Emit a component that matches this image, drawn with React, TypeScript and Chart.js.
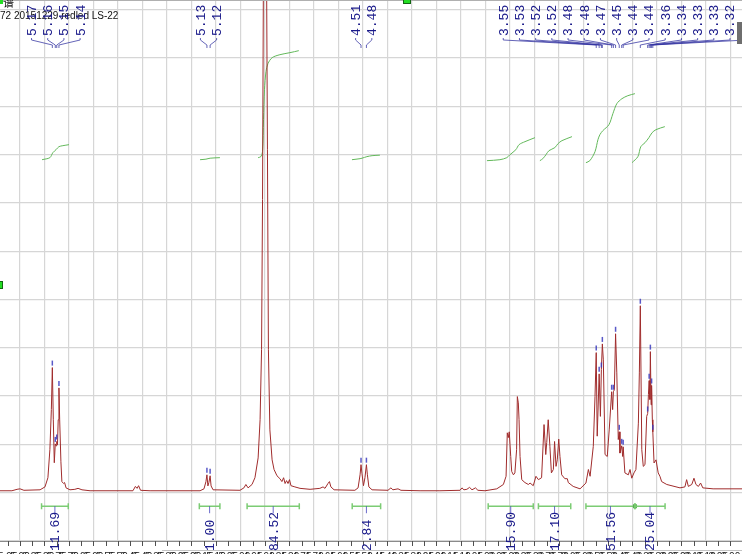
import React, { useEffect, useRef } from 'react';
import { Chart, registerables } from 'chart.js';

Chart.register(...registerables);

// ---------- data ----------
const X_MAX = 5.9816;
const X_MIN = 2.953;

const shiftPpm = [
  5.982, 5.933, 5.912, 5.9, 5.884, 5.818, 5.798, 5.786, 5.778, 5.772, 5.768, 5.764, 5.76, 5.756, 5.753, 5.75, 5.747, 5.744,
  5.741, 5.738, 5.733, 5.729, 5.722, 5.718, 5.712, 5.696, 5.676, 5.663, 5.647, 5.614, 5.439, 5.429, 5.422, 5.416, 5.408,
  5.369, 5.165, 5.149, 5.141, 5.137, 5.133, 5.129, 5.124, 5.12, 5.112, 5.002, 4.986, 4.978, 4.969, 4.953, 4.941, 4.928,
  4.92, 4.914, 4.91, 4.906, 4.9, 4.894, 4.89, 4.886, 4.88, 4.871, 4.863, 4.851, 4.839, 4.831, 4.824, 4.818, 4.812, 4.806,
  4.8, 4.794, 4.778, 4.757, 4.716, 4.676, 4.663, 4.655, 4.643, 4.637, 4.631, 4.618, 4.533, 4.52, 4.512, 4.508, 4.504,
  4.498, 4.492, 4.486, 4.482, 4.476, 4.463, 4.398, 4.386, 4.378, 4.357, 4.345, 4.267, 4.186, 4.104, 4.096, 4.088, 4.076,
  4.065, 4.055, 4.041, 4.031, 4.002, 3.954, 3.927, 3.916, 3.911, 3.907, 3.903, 3.897, 3.893, 3.886, 3.88, 3.873, 3.87,
  3.866, 3.863, 3.859, 3.852, 3.839, 3.825, 3.818, 3.805, 3.794, 3.784, 3.771, 3.761, 3.754, 3.75, 3.744, 3.737, 3.731,
  3.723, 3.718, 3.712, 3.707, 3.701, 3.696, 3.689, 3.676, 3.666, 3.662, 3.642, 3.614, 3.59, 3.58, 3.573, 3.56, 3.553,
  3.548, 3.544, 3.536, 3.531, 3.527, 3.523, 3.519, 3.512, 3.503, 3.495, 3.485, 3.481, 3.478, 3.474, 3.469, 3.464, 3.458,
  3.454, 3.451, 3.444, 3.44, 3.438, 3.431, 3.417, 3.41, 3.403, 3.394, 3.386, 3.376, 3.372, 3.368, 3.362, 3.356, 3.349,
  3.342, 3.338, 3.335, 3.332, 3.329, 3.327, 3.324, 3.322, 3.319, 3.317, 3.312, 3.304, 3.295, 3.288, 3.281, 3.26, 3.206,
  3.186, 3.179, 3.172, 3.158, 3.149, 3.141, 3.131, 3.122, 3.113, 3.071, 2.953,
];

const intensity = [
  0.04, 0.04, 0.07, 0.08, 0.05, 0.06, 0.12, 0.31, 0.89, 1.72, 2.59, 1.51, 0.62, 1.01, 0.97, 1.06, 0.99, 1.51,
  2.17, 1.51, 0.64, 0.23, 0.19, 0.21, 0.1, 0.06, 0.07, 0.09, 0.06, 0.04, 0.04, 0.13, 0.09, 0.145, 0.05,
  0.04, 0.04, 0.08, 0.23, 0.37, 0.14, 0.21, 0.35, 0.14, 0.06, 0.05, 0.1, 0.17, 0.1, 0.17, 0.31, 0.72,
  1.51, 2.96, 6.07, 11.24, 13.3, 11.24, 7.1, 2.96, 1.3, 0.68, 0.48, 0.35, 0.29, 0.23, 0.31, 0.19, 0.25, 0.19,
  0.27, 0.145, 0.12, 0.09, 0.07, 0.09, 0.12, 0.09, 0.19, 0.23, 0.12, 0.06, 0.05, 0.1, 0.37, 0.58, 0.39,
  0.145, 0.31, 0.58, 0.37, 0.12, 0.06, 0.05, 0.1, 0.06, 0.08, 0.05, 0.04, 0.04, 0.05, 0.1, 0.06, 0.07,
  0.11, 0.06, 0.1, 0.05, 0.04, 0.08, 0.17, 0.34, 1.24, 1.14, 1.26, 0.75, 0.44, 0.37, 0.41, 0.89, 1.99,
  1.86, 1.51, 0.75, 0.27, 0.21, 0.17, 0.2, 0.145, 0.34, 0.27, 0.31, 1.41, 0.79, 1.04, 1.51, 0.96, 0.41,
  0.48, 1.06, 0.545, 0.68, 1.11, 0.75, 0.37, 0.29, 0.29, 0.21, 0.13, 0.08, 0.2, 0.48, 0.34, 0.96, 1.99,
  2.9, 1.17, 2.46, 1.58, 2.55, 3.08, 2.75, 0.79, 0.75, 1.3, 2.09, 1.72, 2.09, 2.13, 3.29, 2.48, 1.1,
  1.26, 0.82, 0.97, 0.75, 0.95, 0.41, 0.37, 0.48, 0.3, 0.41, 0.48, 1.44, 2.48, 3.87, 0.89, 0.545, 0.58,
  1.58, 1.64, 2.03, 2.32, 1.93, 2.92, 1.82, 2.22, 1.51, 1.26, 0.615, 0.68, 0.41, 0.34, 0.23, 0.17, 0.1,
  0.12, 0.27, 0.13, 0.17, 0.3, 0.17, 0.13, 0.2, 0.1, 0.08, 0.08,
];

const peakLabels = [
  '5.17', '5.16', '5.15', '5.14', '5.13', '5.12', '4.51', '4.48',
  '3.55', '3.53', '3.52', '3.52', '3.48', '3.48', '3.47', '3.45', '3.44', '3.44',
  '3.36', '3.34', '3.33', '3.33', '3.32', '3.31',
];
const peakShifts = [
  5.768, 5.756, 5.75, 5.741, 5.137, 5.124, 4.508, 4.486,
  3.548, 3.536, 3.527, 3.523, 3.485, 3.478, 3.469, 3.454, 3.444, 3.438,
  3.368, 3.338, 3.332, 3.327, 3.322, 3.317,
];
const peakGroupSizes = [4, 2, 2, 16];

const integralFrom = [5.812, 5.168, 4.973, 4.544, 3.989, 3.784, 3.59, 3.39];
const integralTo = [5.703, 5.084, 4.76, 4.428, 3.805, 3.652, 3.39, 3.267];
const integralValues = ['11.69', '1.00', '84.52', '2.84', '15.90', '17.10', '51.56', '25.04'];

const integralCurve1 = [[5.81, 6.894], [5.778, 6.936], [5.766, 7.039], [5.753, 7.101], [5.741, 7.164], [5.725, 7.184], [5.7, 7.205]];
const integralCurve2 = [[5.165, 6.894], [5.141, 6.905], [5.124, 6.925], [5.084, 6.936]];
const integralCurve3 = [[4.928, 6.936], [4.917, 6.957], [4.91, 7.06], [4.906, 7.723], [4.902, 8.344], [4.896, 8.716], [4.888, 8.882], [4.871, 9.006], [4.839, 9.068], [4.798, 9.11], [4.762, 9.151]];
const integralCurve4 = [[4.545, 6.894], [4.512, 6.915], [4.504, 6.925], [4.484, 6.957], [4.463, 6.977], [4.431, 6.988]];
const integralCurve5 = [[3.994, 6.874], [3.941, 6.894], [3.913, 6.936], [3.9, 6.998], [3.876, 7.101], [3.863, 7.205], [3.839, 7.267], [3.798, 7.35]];
const integralCurve6 = [[3.778, 6.874], [3.766, 6.915], [3.753, 6.998], [3.741, 7.081], [3.717, 7.143], [3.704, 7.226], [3.688, 7.288], [3.647, 7.371]];
const integralCurve7 = [[3.59, 6.832], [3.574, 6.874], [3.553, 7.06], [3.541, 7.308], [3.533, 7.412], [3.521, 7.495], [3.496, 7.619], [3.48, 7.847], [3.464, 8.054], [3.443, 8.157], [3.419, 8.219], [3.39, 8.261]];
const integralCurve8 = [[3.402, 6.832], [3.378, 6.957], [3.366, 7.164], [3.349, 7.246], [3.333, 7.35], [3.32, 7.453], [3.304, 7.516], [3.268, 7.578]];
const integralCurves = [integralCurve1, integralCurve2, integralCurve3, integralCurve4, integralCurve5, integralCurve6, integralCurve7, integralCurve8];

const headerText = '72 20151229 redled LS-22';
const headerTitle = '谱';

// ---------- styles ----------
const SPEC_COLOR = '#a02c2c';
const INT_COLOR = '#62b85a';
const LABEL_COLOR = '#1a1a8a';
const LINK_COLOR = 'rgba(50,50,160,0.75)';
const GRID_COLOR = '#d6d6d6';
const MONO = '"Liberation Mono", "DejaVu Sans Mono", monospace';

function intensityAt(p: number): number {
  for (let i = 0; i < shiftPpm.length - 1; i++) {
    const a = shiftPpm[i], b = shiftPpm[i + 1];
    if (p <= a && p >= b) {
      const t = a === b ? 0 : (a - p) / (a - b);
      return intensity[i] + t * (intensity[i + 1] - intensity[i]);
    }
  }
  return 0;
}

const nmrPlugin = {
  id: 'nmrDecor',
  afterDatasetsDraw(chart: any) {
    const ctx: CanvasRenderingContext2D = chart.ctx;
    const xs = chart.scales.x;
    const ys = chart.scales.y;
    const area = chart.chartArea;
    const px = (v: number) => xs.getPixelForValue(v);
    const py = (v: number) => ys.getPixelForValue(v);
    const W = chart.width;
    ctx.save();

    // top border line
    ctx.strokeStyle = '#b0b0b0';
    ctx.lineWidth = 1;
    ctx.beginPath();
    ctx.moveTo(0, 0.5);
    ctx.lineTo(W, 0.5);
    ctx.stroke();

    // header text
    ctx.fillStyle = '#111';
    ctx.font = '10px "Liberation Sans", sans-serif';
    ctx.textBaseline = 'alphabetic';
    ctx.textAlign = 'left';
    ctx.fillText(headerText, 0, 19);
    ctx.font = '11px "Noto Sans CJK SC", sans-serif';
    ctx.fillText(headerTitle, 3, 7);
    ctx.fillStyle = '#22dd22';
    ctx.fillRect(0, 0, 3, 4);

    // peak markers
    ctx.strokeStyle = 'rgba(60,60,190,0.85)';
    ctx.lineWidth = 1.5;
    peakShifts.forEach((p) => {
      const x = px(p);
      const y = py(intensityAt(p));
      ctx.beginPath();
      ctx.moveTo(x, y - 2);
      ctx.lineTo(x, y - 7);
      ctx.stroke();
    });

    // peak labels + connectors
    const spacing = 16.2;
    let idx = 0;
    const labelBottom = area.top + 36;
    peakGroupSizes.forEach((n) => {
      const xsPk: number[] = [];
      for (let k = 0; k < n; k++) xsPk.push(px(peakShifts[idx + k]));
      const center = xsPk.reduce((s, v) => s + v, 0) / n;
      for (let k = 0; k < n; k++) {
        const lx = center + (k - (n - 1) / 2) * spacing;
        const pk = xsPk[k];
        ctx.strokeStyle = LINK_COLOR;
        ctx.lineWidth = 1;
        ctx.beginPath();
        ctx.moveTo(lx, labelBottom + 2);
        ctx.lineTo(lx, labelBottom + 4);
        ctx.lineTo(pk, labelBottom + 9);
        ctx.lineTo(pk, labelBottom + 12);
        ctx.stroke();
        ctx.save();
        ctx.translate(lx, labelBottom);
        ctx.rotate(-Math.PI / 2);
        ctx.fillStyle = LABEL_COLOR;
        ctx.font = '13px ' + MONO;
        ctx.textAlign = 'left';
        ctx.textBaseline = 'middle';
        ctx.fillText(peakLabels[idx + k], 0, 1);
        ctx.restore();
      }
      idx += n;
    });

    // integral bars
    const barY = py(-0.28);
    integralFrom.forEach((f, i) => {
      const x1 = px(f);
      const x2 = px(integralTo[i]);
      ctx.strokeStyle = '#7ccc74';
      ctx.lineWidth = 1.5;
      ctx.beginPath();
      ctx.moveTo(x1, barY);
      ctx.lineTo(x2, barY);
      ctx.moveTo(x1, barY - 3);
      ctx.lineTo(x1, barY + 3);
      ctx.moveTo(x2, barY - 3);
      ctx.lineTo(x2, barY + 3);
      ctx.stroke();
      if (i < integralFrom.length - 1 && Math.abs(integralTo[i] - integralFrom[i + 1]) < 1e-6) {
        ctx.fillStyle = '#58b050';
        ctx.fillRect(x2 - 2, barY - 2, 4, 4);
      }
      const cx = (x1 + x2) / 2;
      ctx.strokeStyle = 'rgba(70,70,190,0.8)';
      ctx.lineWidth = 1;
      ctx.beginPath();
      ctx.moveTo(cx, barY);
      ctx.lineTo(cx, barY + 7);
      ctx.stroke();
    });

    // ruler
    const axY = area.bottom;
    ctx.strokeStyle = '#8a8a8a';
    ctx.lineWidth = 1;
    ctx.beginPath();
    ctx.moveTo(0, axY + 0.5);
    ctx.lineTo(W, axY + 0.5);
    ctx.stroke();
    ctx.strokeStyle = '#505050';
    const startT = Math.ceil(X_MIN / 0.05);
    const endT = Math.floor(X_MAX / 0.05);
    for (let t = startT; t <= endT; t++) {
      const x = Math.round(px(t * 0.05)) + 0.5;
      ctx.beginPath();
      ctx.moveTo(x, axY);
      ctx.lineTo(x, axY + 5);
      ctx.stroke();
    }
    ctx.fillStyle = '#222';
    ctx.font = '10px "Liberation Sans", sans-serif';
    ctx.textAlign = 'center';
    ctx.textBaseline = 'top';
    for (let t = startT; t <= endT; t++) {
      ctx.fillText((t * 0.05).toFixed(2), px(t * 0.05), axY + 11);
    }
    ctx.strokeStyle = '#c4c4c4';
    ctx.beginPath();
    ctx.moveTo(162, axY + 9.5);
    ctx.lineTo(W, axY + 9.5);
    ctx.stroke();

    // integral value labels
    integralFrom.forEach((f, i) => {
      const cx = (px(f) + px(integralTo[i])) / 2;
      ctx.save();
      ctx.translate(cx, axY + 10);
      ctx.rotate(-Math.PI / 2);
      ctx.fillStyle = LABEL_COLOR;
      ctx.font = '13px ' + MONO;
      ctx.textAlign = 'left';
      ctx.textBaseline = 'middle';
      ctx.fillText(integralValues[i], 0, 1);
      ctx.restore();
    });

    // ui markers
    ctx.fillStyle = '#22dd22';
    ctx.strokeStyle = '#116611';
    ctx.fillRect(403, -2, 8, 6);
    ctx.strokeRect(403.5, -1.5, 7, 5);
    ctx.fillRect(0, 281, 3, 8);
    ctx.strokeRect(-0.5, 281.5, 3, 7);
    ctx.fillStyle = '#6e6e6e';
    ctx.fillRect(737, 22, 5, 22);

    ctx.restore();
  },
};

export default function App() {
  const ref = useRef<HTMLCanvasElement | null>(null);
  useEffect(() => {
    document.body.style.margin = '0';
    const canvas = ref.current;
    if (!canvas) return;
    const datasets: any[] = [
      {
        data: shiftPpm.map((x, i) => ({ x, y: intensity[i] })),
        borderColor: SPEC_COLOR,
        borderWidth: 1,
        pointRadius: 0,
        tension: 0,
        fill: false,
      },
      ...integralCurves.map((c) => ({
        data: c.map((p) => ({ x: p[0], y: p[1] })),
        borderColor: INT_COLOR,
        borderWidth: 1,
        pointRadius: 0,
        tension: 0.3,
        fill: false,
      })),
    ];
    const chart = new Chart(canvas, {
      type: 'line',
      data: { datasets },
      options: {
        animation: false,
        responsive: false,
        devicePixelRatio: 1,
        layout: { padding: { left: 0, right: 0, top: 0, bottom: 13 } },
        plugins: { legend: { display: false }, tooltip: { enabled: false } },
        scales: {
          x: {
            type: 'linear',
            reverse: true,
            min: X_MIN,
            max: X_MAX,
            ticks: { display: false, stepSize: 0.1, includeBounds: false },
            grid: { color: GRID_COLOR, lineWidth: 1.2, drawTicks: false },
            border: { display: false },
          },
          y: {
            type: 'linear',
            min: -1,
            max: 10.2,
            ticks: { display: false, stepSize: 1, includeBounds: false },
            grid: { color: GRID_COLOR, lineWidth: 1.2, drawTicks: false },
            border: { display: false },
          },
        },
      } as any,
      plugins: [nmrPlugin],
    });
    return () => chart.destroy();
  }, []);
  return (
    <div style={{ width: 742, height: 554, background: '#fff' }}>
      <canvas ref={ref} width={742} height={554} style={{ display: 'block' }} />
    </div>
  );
}
